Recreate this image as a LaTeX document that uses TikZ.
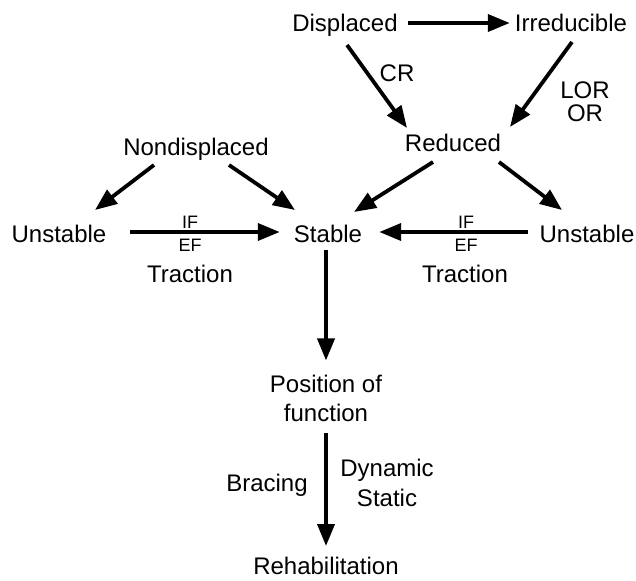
\documentclass[tikz,border=0pt]{standalone}
\usepackage{fontspec}
\setmainfont{Liberation Sans}
\usetikzlibrary{arrows.meta}
\begin{document}
\begin{tikzpicture}[x=1pt,y=-1pt,
  lbl/.style={font=\fontsize{24}{29}\selectfont, inner sep=0pt, anchor=base},
  sm/.style={font=\fontsize{18}{21}\selectfont, inner sep=0pt, anchor=base},
  arr/.style={line width=3.8pt, -{Triangle[length=22pt,width=17pt]}}]
\useasboundingbox (0,0) rectangle (636,580);
% main nodes
\node[lbl] (disp) at (345,32) {Displaced};
\node[lbl] (irr) at (571,32) {Irreducible};
\node[lbl] (red) at (453,152) {Reduced};
\node[lbl] (nondisp) at (196,156) {Nondisplaced};
\node[lbl] (unL) at (59,242) {Unstable};
\node[lbl] (stab) at (328,242) {Stable};
\node[lbl] (unR) at (587,242) {Unstable};
\node[lbl, anchor=center, align=center] (pos) at (326,398) {Position of\\function};
\node[lbl] (rehab) at (326,574) {Rehabilitation};
% labels
\node[lbl] (cr) at (397,82) {CR};
\node[lbl] (lor) at (585,99) {LOR};
\node[lbl] (or) at (585,122) {OR};
\node[sm] (ifL) at (190,228.5) {IF};
\node[sm] (efL) at (190,251.5) {EF};
\node[lbl] (trL) at (190,282) {Traction};
\node[sm] (ifR) at (466,228.5) {IF};
\node[sm] (efR) at (466,251.5) {EF};
\node[lbl] (trR) at (465,282) {Traction};
\node[lbl] (brac) at (267,491) {Bracing};
\node[lbl] (dyn) at (387,476) {Dynamic};
\node[lbl] (stat) at (387,506) {Static};
% connectors
\draw[arr] ([shift={(10,-9)}]disp.base east) -- ([shift={(-5,-9)}]irr.base west);
\draw[arr] ([shift={(2,13)}]disp.base) -- ([shift={(-46,-24)}]red.base);
\draw[arr] ([shift={(1,10)}]irr.base) -- ([shift={(57,-25)}]red.base);
\draw[arr] ([shift={(-42,9)}]nondisp.base) -- ([shift={(36,-32)}]unL.base);
\draw[arr] ([shift={(33,9)}]nondisp.base) -- ([shift={(-33,-32)}]stab.base);
\draw[arr] ([shift={(-20,10)}]red.base) -- ([shift={(26,-30)}]stab.base);
\draw[arr] ([shift={(46,10)}]red.base) -- ([shift={(-25,-32)}]unR.base);
\draw[arr] ([shift={(23,-10)}]unL.base east) -- ([shift={(-14,-10)}]stab.base west);
\draw[arr] ([shift={(-11,-10)}]unR.base west) -- ([shift={(17,-10)}]stab.base east);
\draw[arr] ([shift={(-2,8)}]stab.base) -- ([shift={(0,-14)}]pos.north);
\draw[arr] ([shift={(0,11)}]pos.south) -- ([shift={(0,-28)}]rehab.base);
\end{tikzpicture}
\end{document}
